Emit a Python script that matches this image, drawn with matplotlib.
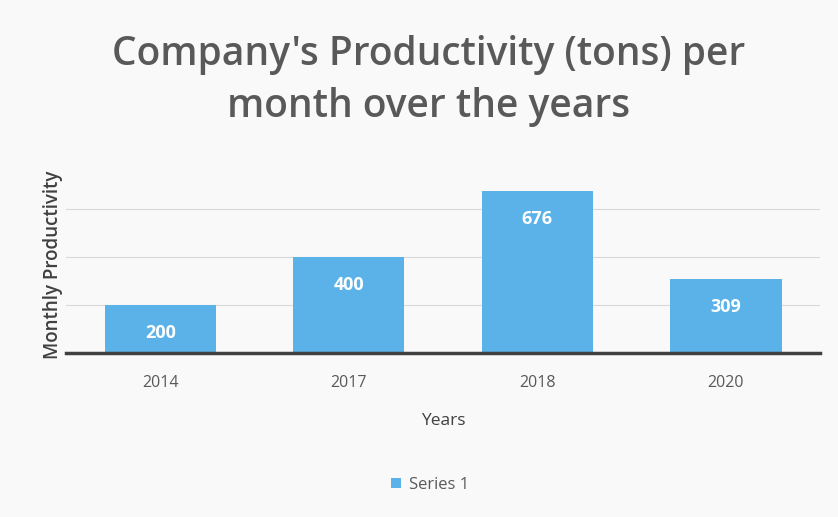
import matplotlib.pyplot as plt

years = ['2014', '2017', '2018', '2020']
productivity = [200, 400, 676, 309]
series_name = 'Series 1'

plt.rcParams['font.family'] = ['Open Sans', 'DejaVu Sans']

fig = plt.figure(figsize=(8.38, 5.17), dpi=100, facecolor='#f9f9f9')
ax = fig.add_axes([0.0788, 0.3172, 0.900, 0.3714])
ax.set_facecolor('#f9f9f9')

bar_color = '#5ab2e8'
bars = ax.bar(years, productivity, width=0.59, color=bar_color, label=series_name, zorder=2)

for b, v in zip(bars, productivity):
    ax.annotate(str(v), (b.get_x() + b.get_width() / 2, v), xytext=(0, -20.5),
                textcoords='offset points', ha='center', va='center',
                color='white', fontsize=13, fontweight='bold', zorder=3)

ax.set_ylim(0, 800)
ax.set_xlim(-0.5, 3.5)
ax.set_yticks([200, 400, 600])
ax.yaxis.grid(True, color='#d8d8d8', linewidth=0.8, zorder=0)
ax.tick_params(axis='y', left=False, labelleft=False)
ax.tick_params(axis='x', bottom=False, labelsize=11.5, labelcolor='#595959', pad=12)

for s in ['top', 'right', 'left']:
    ax.spines[s].set_visible(False)
ax.spines['bottom'].set_color('#404040')
ax.spines['bottom'].set_linewidth(2.5)

ax.set_xlabel('Years', fontsize=12.5, color='#404040', labelpad=16)
ax.set_ylabel('Monthly Productivity', fontsize=13.5, color='#404040', fontweight='semibold')
ax.yaxis.set_label_coords(-0.004, 0.46)

fig.suptitle("Company's Productivity (tons) per\nmonth over the years", x=0.512, y=0.932,
             fontsize=28, fontweight='semibold', color='#595959', linespacing=1.38)

fig.legend(loc='center', bbox_to_anchor=(0.513, 0.062), frameon=False, fontsize=12,
           labelcolor='#595959', handlelength=0.6, handleheight=0.6, handletextpad=0.5)

fig.savefig('out.png', dpi=100, facecolor=fig.get_facecolor())
